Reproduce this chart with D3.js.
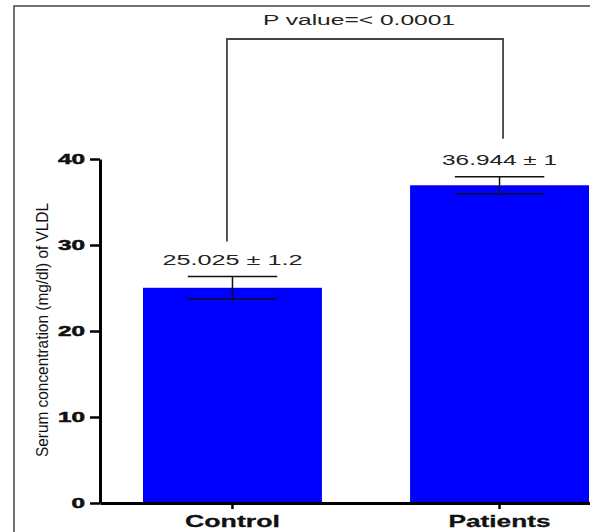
<!DOCTYPE html>
<html>
<head>
<meta charset="utf-8">
<script src="https://cdn.jsdelivr.net/npm/d3@7"></script>
<style>
  body { margin: 0; background: #fff; }
  svg { display: block; font-family: "Liberation Sans", Arial, sans-serif; }
</style>
</head>
<body>
<div id="chart"></div>
<script>
// data
const groups = ["Control", "Patients"];
const means = [25.025, 36.944];
const errors = [1.3, 1.0];
const meanLabels = ["25.025 ± 1.2", "36.944 ± 1"];
const yTicks = [0, 10, 20, 30, 40];
const pLabel = "P value=< 0.0001";

const W = 590, H = 532;
const x0 = 100, y0 = 503;

const svg = d3.select("#chart").append("svg")
  .attr("width", W).attr("height", H);

// outer frame
svg.append("rect")
  .attr("x", 14).attr("y", 6)
  .attr("width", W + 20).attr("height", H + 20)
  .attr("fill", "none").attr("stroke", "#444").attr("stroke-width", 1.5);

const xScale = d3.scaleBand()
  .domain(groups)
  .range([x0, 632])
  .paddingInner(0.33)
  .paddingOuter(0.161);

const yScale = d3.scaleLinear()
  .domain([0, 40])
  .range([y0, 159]);

const data = groups.map((g, i) => ({ group: g, mean: means[i], err: errors[i], label: meanLabels[i] }));

// bars
svg.selectAll(".bar")
  .data(data)
  .enter()
  .append("rect")
  .attr("class", "bar")
  .attr("x", (d) => xScale(d.group))
  .attr("width", xScale.bandwidth())
  .attr("y", (d) => yScale(d.mean))
  .attr("height", (d) => y0 - yScale(d.mean))
  .attr("fill", "#0000ff");

// error bars
const capHalf = xScale.bandwidth() / 4;
const eb = svg.selectAll(".err").data(data).enter().append("g")
  .attr("class", "err")
  .attr("stroke", "#111").attr("stroke-width", 1.5);
eb.append("line")
  .attr("x1", (d) => xScale(d.group) + xScale.bandwidth() / 2)
  .attr("x2", (d) => xScale(d.group) + xScale.bandwidth() / 2)
  .attr("y1", (d) => yScale(d.mean - d.err))
  .attr("y2", (d) => yScale(d.mean + d.err));
eb.append("line")
  .attr("x1", (d) => xScale(d.group) + xScale.bandwidth() / 2 - capHalf)
  .attr("x2", (d) => xScale(d.group) + xScale.bandwidth() / 2 + capHalf)
  .attr("y1", (d) => yScale(d.mean + d.err))
  .attr("y2", (d) => yScale(d.mean + d.err));
eb.append("line")
  .attr("x1", (d) => xScale(d.group) + xScale.bandwidth() / 2 - capHalf)
  .attr("x2", (d) => xScale(d.group) + xScale.bandwidth() / 2 + capHalf)
  .attr("y1", (d) => yScale(d.mean - d.err))
  .attr("y2", (d) => yScale(d.mean - d.err));

// mean ± sd labels
svg.selectAll(".val")
  .data(data)
  .enter()
  .append("text")
  .attr("class", "val")
  .attr("x", (d) => xScale(d.group) + xScale.bandwidth() / 2)
  .attr("y", (d) => yScale(d.mean + d.err) - 12)
  .attr("text-anchor", "middle")
  .attr("font-size", 15.5)
  .attr("fill", "#222")
  .attr("textLength", (d, i) => (i === 0 ? 140 : 115))
  .attr("lengthAdjust", "spacingAndGlyphs")
  .text((d) => d.label);

// significance bracket
const leftX = xScale(groups[0]) + xScale.bandwidth() / 2 - 5.5;
const rightX = xScale(groups[1]) + xScale.bandwidth() / 2 + 3.5;
const topY = 39;
svg.append("path")
  .attr("d", `M${leftX},${yScale(means[0] + errors[0]) - 35}V${topY}H${rightX}V${yScale(means[1] + errors[1]) - 38}`)
  .attr("fill", "none")
  .attr("stroke", "#444")
  .attr("stroke-width", 1.8);

svg.append("text")
  .attr("x", (leftX + rightX) / 2 - 6)
  .attr("y", 25)
  .attr("text-anchor", "middle")
  .attr("font-size", 15.5)
  .attr("fill", "#222")
  .attr("textLength", 192)
  .attr("lengthAdjust", "spacingAndGlyphs")
  .text(pLabel);

// y axis
const yAxis = svg.append("g")
  .attr("transform", `translate(${x0},0)`)
  .call(d3.axisLeft(yScale).tickValues(yTicks).tickSize(10).tickSizeOuter(0));
yAxis.select(".domain").attr("stroke", "#000").attr("stroke-width", 3);
yAxis.selectAll(".tick line").attr("stroke", "#000").attr("stroke-width", 2.5);
yAxis.selectAll(".tick text")
  .attr("x", -15)
  .attr("font-size", 14)
  .attr("font-weight", "bold")
  .attr("fill", "#111")
  .attr("stroke", "#111").attr("stroke-width", 0.5)
  .attr("font-family", "'Liberation Sans', Arial, sans-serif")
  .attr("textLength", (d) => String(d).length * 13.5)
  .attr("lengthAdjust", "spacingAndGlyphs");

// x axis
const xAxis = svg.append("g")
  .attr("transform", `translate(0,${y0})`)
  .call(d3.axisBottom(xScale).tickSize(6).tickSizeOuter(0));
xAxis.select(".domain").attr("stroke", "#000").attr("stroke-width", 3);
xAxis.selectAll(".tick line").attr("stroke", "#000").attr("stroke-width", 2.5);
xAxis.selectAll(".tick text")
  .attr("y", 12)
  .attr("font-size", 17)
  .attr("font-weight", "bold")
  .attr("fill", "#111")
  .attr("stroke", "#111").attr("stroke-width", 0.3)
  .attr("font-family", "'Liberation Sans', Arial, sans-serif")
  .attr("textLength", (d) => (d === "Control" ? 95 : 102))
  .attr("lengthAdjust", "spacingAndGlyphs");

// y axis title
svg.append("text")
  .attr("transform", "translate(48,330) rotate(-90)")
  .attr("text-anchor", "middle")
  .attr("font-size", 17)
  .attr("fill", "#111")
  .attr("textLength", 254)
  .attr("lengthAdjust", "spacingAndGlyphs")
  .text("Serum concentration (mg/dl) of VLDL");
</script>
</body>
</html>
